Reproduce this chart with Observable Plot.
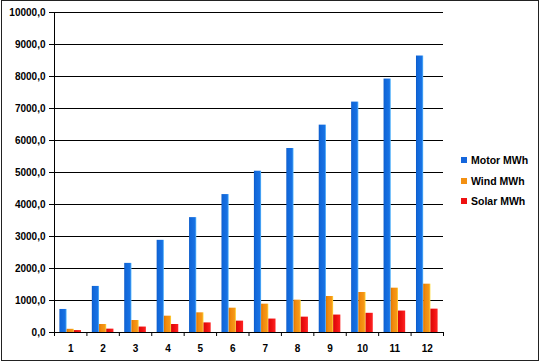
<!DOCTYPE html>
<html><head><meta charset="utf-8">
<script src="https://cdn.jsdelivr.net/npm/d3@7"></script>
<script src="https://cdn.jsdelivr.net/npm/@observablehq/plot@0.6"></script>
<style>
body{margin:0;background:#fff}
#chart{position:relative;width:540px;height:362px;overflow:hidden;font-family:"Liberation Sans",Arial,sans-serif;background:#fff}
#chart svg{position:absolute;left:0;top:0}
#border{position:absolute;left:1px;top:0;width:536px;height:359px;border:1px solid #222;pointer-events:none}
#legend{position:absolute;left:461px;top:150px;font-weight:bold;font-size:10.5px;color:#000}
.item{display:flex;align-items:center;height:20.5px}
.sw{width:6px;height:6px;margin-right:4px}
</style></head><body><div id="chart"><div id="legend"></div><div id="border"></div></div>
<script>
const months = [1, 2, 3, 4, 5, 6, 7, 8, 9, 10, 11, 12];
const motor = [720, 1440, 2160, 2880, 3590, 4310, 5040, 5750, 6480, 7200, 7920, 8640];
const wind  = [100, 250, 375, 510, 615, 760, 885, 1010, 1125, 1250, 1385, 1510];
const solar = [60, 105, 170, 250, 300, 355, 420, 480, 545, 600, 670, 730];
const seriesNames = ["Motor MWh", "Wind MWh", "Solar MWh"];
const seriesColors = ["#1466dc", "#f39012", "#ee1111"];
const yTicks = [0, 1000, 2000, 3000, 4000, 5000, 6000, 7000, 8000, 9000, 10000];

const seriesValues = [motor, wind, solar];
const groupGap = 1.5; // gap width in bar widths (Excel 150%)
const slots = seriesNames.length + groupGap;
const rows = [];
seriesValues.forEach((vals, s) => vals.forEach((v, i) => {
  const m = months[i];
  const x1 = m - 0.5 + (groupGap / 2 + s) / slots;
  rows.push({series: seriesNames[s], s, month: m, value: v, x1, x2: x1 + 1 / slots});
}));
const boundaries = months.map(m => m - 0.5).concat([months[months.length - 1] + 0.5]);
const fmt = d => d.toFixed(1).replace(".", ",");

const plot = Plot.plot({
  width: 540,
  height: 362,
  marginLeft: 54,
  marginRight: 97,
  marginTop: 12,
  marginBottom: 30,
  style: {fontFamily: '"Liberation Sans", Arial, sans-serif', fontSize: "10px", color: "#000", background: "transparent"},
  x: {domain: [0.5, 12.5], axis: null, label: null},
  y: {domain: [0, 10000], axis: null, label: null},
  marks: [
    Plot.ruleY(yTicks.filter(d => d > 0), {stroke: "#000", strokeWidth: 1}),
    ...seriesNames.map((name, s) => Plot.rectY(rows.filter(r => r.s === s), {
      x1: "x1", x2: "x2", y1: 0, y2: "value", fill: `url(#grad${s})`
    })),
    Plot.ruleY([0], {stroke: "#000"}),
    Plot.ruleX([0.5], {stroke: "#000"}),
    Plot.axisY(yTicks, {tickSize: 5, tickPadding: 4, tickFormat: fmt, fontWeight: "bold", fontSize: 10, label: null}),
    Plot.axisX(boundaries, {tickSize: 4, tickFormat: () => "", label: null}),
    Plot.axisX(months, {tickSize: 0, tickPadding: 12, fontWeight: "bold", fontSize: 10, label: null})
  ]
});

const svg = d3.select(plot);
const defs = svg.insert("defs", ":first-child");
const gradStops = [
  [[0, "#0b58c6"], [0.15, "#1066d8"], [0.8, "#1872e4"], [1, "#62c0ff"]],
  [[0, "#e07400"], [0.3, "#f08a0c"], [0.8, "#f69818"], [1, "#ffdc3c"]],
  [[0, "#d80808"], [0.5, "#ee1010"], [1, "#ff2424"]]
];
gradStops.forEach((stops, s) => {
  const g = defs.append("linearGradient").attr("id", `grad${s}`).attr("x1", 0).attr("x2", 1).attr("y1", 0).attr("y2", 0);
  stops.forEach(([o, c]) => g.append("stop").attr("offset", o).attr("stop-color", c));
});

const chart = document.getElementById("chart");
chart.insertBefore(plot, chart.firstChild);

const legend = d3.select("#legend");
seriesNames.forEach((name, s) => {
  const it = legend.append("div").attr("class", "item");
  it.append("div").attr("class", "sw").style("background", seriesColors[s]);
  it.append("span").text(name);
});
</script></body></html>
